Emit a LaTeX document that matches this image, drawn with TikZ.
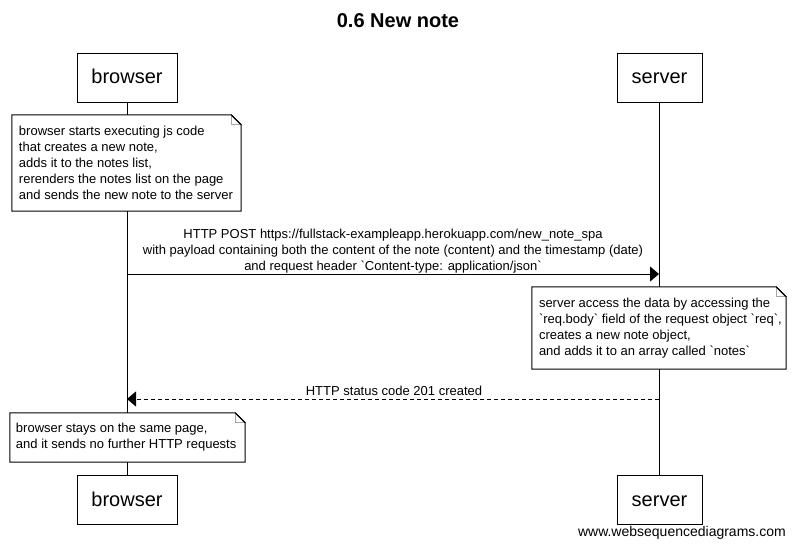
\documentclass[tikz,border=0pt]{standalone}
\usepackage{fontspec}
\setmainfont{Liberation Sans}[Ligatures=TeXOff]
\usetikzlibrary{arrows.meta}
\begin{document}
\begin{tikzpicture}[x=1pt,y=-1pt,
  actor/.style={draw, line width=1pt, fill=white, font=\fontsize{20}{24}\selectfont, inner sep=0pt, minimum height=49pt, text height=16pt, text depth=4pt},
  notebg/.style={fill=white, draw=none, inner sep=0pt},
  noteline/.style={draw, line width=1pt, fill=white, line join=miter},
  notefold/.style={draw=black!35, line width=1pt},
  notetext/.style={font=\fontsize{13}{16}\selectfont, align=left, inner sep=0pt, anchor=west},
  msgtext/.style={font=\fontsize{13}{16}\selectfont, align=center, inner sep=0pt},
  lifeline/.style={line width=1pt},
  msg/.style={line width=1pt, -{Triangle[length=9pt,width=15pt]}},
  reply/.style={msg, dash pattern=on 4pt off 3pt}
]
\useasboundingbox (0,0) rectangle (796,549);
\fill[white] (0,0) rectangle (796,549);

% title
\node[font=\bfseries\fontsize{20}{24}\selectfont] (title) at (398,21) {0.6 New note};

% actors
\node[actor, minimum width=100pt] (bt) at (127,77.5) {browser};
\node[actor, minimum width=85pt] (st) at (659.5,77.5) {server};
\node[actor, minimum width=100pt] (bb) at (127,500) {browser};
\node[actor, minimum width=85pt] (sb) at (659.5,500) {server};

% lifelines
\draw[lifeline] (bt.south) -- (bb.north);
\draw[lifeline] (st.south) -- (sb.north);

% note 1
\node[notebg, minimum width=229pt, minimum height=96pt] (n1) at (126.5,163) {};
\draw[noteline] (n1.north west) -- ([xshift=-10pt]n1.north east) -- ([yshift=-10pt]n1.north east) -- (n1.south east) -- (n1.south west) -- cycle;
\draw[notefold] ([xshift=-10pt,yshift=-0.5pt]n1.north east) -- ([xshift=-10pt,yshift=-10pt]n1.north east) -- ([xshift=-0.5pt,yshift=-10pt]n1.north east);
\draw[line width=1pt] ([xshift=-10pt]n1.north east) -- ([yshift=-10pt]n1.north east);
\node[notetext] (n1t) at ([xshift=7pt]n1.west) {browser starts executing js code\\that creates a new note,\\adds it to the notes list,\\rerenders the notes list on the page\\and sends the new note to the server};

% message 1
\coordinate (m1a) at (127,274);
\coordinate (m1b) at (659,274);
\draw[msg] (m1a) -- (m1b);
\node[msgtext] (m1t) at (393,251) {HTTP POST https://fullstack-exampleapp.herokuapp.com/new\_note\_spa\\with payload containing both the content of the note (content) and the timestamp (date)\\and request header `Content-type: application/json`};

% note 2
\node[notebg, minimum width=254pt, minimum height=82pt] (n2) at (659,328) {};
\draw[noteline] (n2.north west) -- ([xshift=-10pt]n2.north east) -- ([yshift=-10pt]n2.north east) -- (n2.south east) -- (n2.south west) -- cycle;
\draw[notefold] ([xshift=-10pt,yshift=-0.5pt]n2.north east) -- ([xshift=-10pt,yshift=-10pt]n2.north east) -- ([xshift=-0.5pt,yshift=-10pt]n2.north east);
\draw[line width=1pt] ([xshift=-10pt]n2.north east) -- ([yshift=-10pt]n2.north east);
\node[notetext] (n2t) at ([xshift=7pt]n2.west) {server access the data by accessing the\\`req.body` field of the request object `req`,\\creates a new note object,\\and adds it to an array called `notes`};

% reply
\coordinate (m2a) at (659,399);
\coordinate (m2b) at (127,399);
\draw[reply] (m2a) -- (m2b);
\node[msgtext] (m2t) at (394,391) {HTTP status code 201 created};

% note 3
\node[notebg, minimum width=235pt, minimum height=49pt] (n3) at (127.5,437.5) {};
\draw[noteline] (n3.north west) -- ([xshift=-10pt]n3.north east) -- ([yshift=-10pt]n3.north east) -- (n3.south east) -- (n3.south west) -- cycle;
\draw[notefold] ([xshift=-10pt,yshift=-0.5pt]n3.north east) -- ([xshift=-10pt,yshift=-10pt]n3.north east) -- ([xshift=-0.5pt,yshift=-10pt]n3.north east);
\draw[line width=1pt] ([xshift=-10pt]n3.north east) -- ([yshift=-10pt]n3.north east);
\node[notetext] (n3t) at ([xshift=6pt]n3.west) {browser stays on the same page,\\and it sends no further HTTP requests};

% footer
\node[font=\fontsize{14}{16}\selectfont, anchor=east, inner sep=0pt] (foot) at (786,533) {www.websequencediagrams.com};
\end{tikzpicture}
\end{document}
